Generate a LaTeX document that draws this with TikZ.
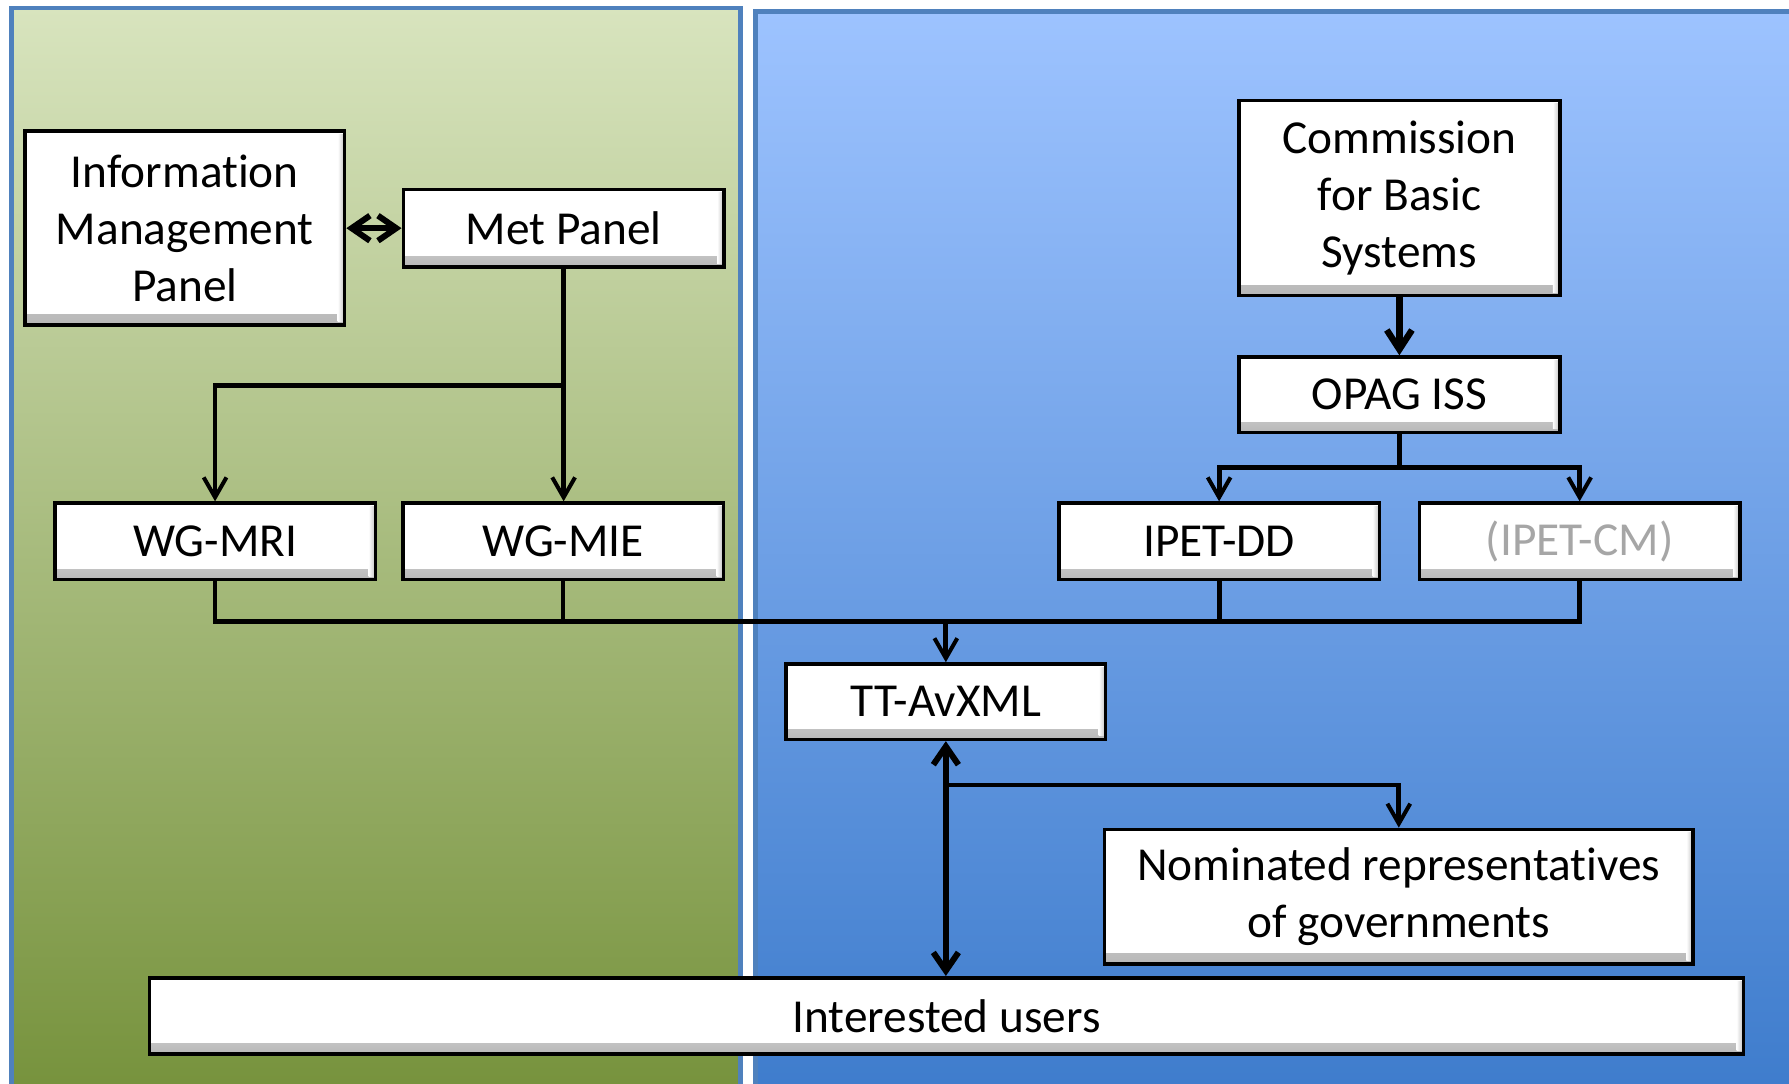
\documentclass[tikz,border=0pt]{standalone}
\usepackage{fontspec}
\setmainfont{Carlito}[Ligatures=NoCommon]
\usepackage{tikz}
\usetikzlibrary{arrows.meta}
\pgfdeclarelayer{bg}
\pgfsetlayers{bg,main}
\definecolor{greentop}{RGB}{216,228,190}
\definecolor{greenbot}{RGB}{118,146,60}
\definecolor{bluetop}{RGB}{157,195,255}
\definecolor{bluebot}{RGB}{62,124,204}
\definecolor{panelrim}{RGB}{79,129,189}
\definecolor{ghosttext}{RGB}{166,166,166}
\tikzset{
    box/.style={draw=black, line width=0.9pt, fill=white, align=center, inner sep=0pt,
        font=\fontsize{11.8}{14.2}\selectfont,
        path picture={
            \shade[top color=white, bottom color=black!28]
                ([yshift=0.09cm]path picture bounding box.south west) rectangle (path picture bounding box.south east);
            \shade[left color=white, right color=black!25]
                ([xshift=-0.06cm,yshift=-0.03cm]path picture bounding box.north east) rectangle ([yshift=0.03cm]path picture bounding box.south east);
        }},
    link/.style={draw=black, line width=1.2pt},
    arr/.style={link, -{Straight Barb[length=1.75mm,width=2mm,line width=1pt]}},
    bigarr/.style={draw=black, line width=1.6pt, -{Straight Barb[length=1.7mm,width=2.2mm,line width=1.6pt]}},
    dblarr/.style={draw=black, line width=1.5pt, {Straight Barb[length=1.6mm,width=2.2mm,line width=1.5pt]}-{Straight Barb[length=1.6mm,width=2.2mm,line width=1.5pt]}},
}
\begin{document}
\begin{tikzpicture}
                \useasboundingbox (0,0) rectangle (15.68,-9.50);
                \begin{pgfonlayer}{bg}
                    \fill[white] (0,0) rectangle (15.68,-9.50);
                    \shade[top color=greentop, bottom color=greenbot] (0.10,-0.07) rectangle (6.49,-9.60);
                    \draw[panelrim, line width=1.2pt] (0.10,-9.60) -- (0.10,-0.07) -- (6.49,-0.07) -- (6.49,-9.60);
                    \shade[top color=bluetop, bottom color=bluebot] (6.62,-0.10) rectangle (15.80,-9.60);
                    \draw[panelrim, line width=1.2pt] (6.62,-9.60) -- (6.62,-0.10) -- (15.80,-0.10);
                \end{pgfonlayer}

                % WMO side
                \node[box, minimum width=2.80cm, minimum height=1.70cm] (info) at (1.62,-2.00) {Information\\Management\\Panel};
                \node[box, minimum width=2.81cm, minimum height=0.68cm] (met) at (4.94,-2.00) {Met Panel};
                \node[box, minimum width=2.81cm, minimum height=0.67cm] (mri) at (1.885,-4.745) {WG-MRI};
                \node[box, minimum width=2.81cm, minimum height=0.67cm] (mie) at (4.935,-4.745) {WG-MIE};

                % ICAO side
                \node[box, minimum width=2.81cm, minimum height=1.71cm] (cbs) at (12.265,-1.735) {Commission\\for Basic\\Systems};
                \node[box, minimum width=2.81cm, minimum height=0.66cm] (opag) at (12.265,-3.46) {OPAG ISS};
                \node[box, minimum width=2.81cm, minimum height=0.67cm] (dd) at (10.685,-4.745) {IPET-DD};
                \node[box, minimum width=2.81cm, minimum height=0.67cm, text=ghosttext] (cm) at (13.845,-4.745) {(IPET-CM)};

                \node[box, minimum width=2.80cm, minimum height=0.66cm] (tt) at (8.29,-6.15) {TT-AvXML};
                \node[box, minimum width=5.16cm, minimum height=1.18cm] (nom) at (12.26,-7.86) {Nominated representatives\\of governments};
                \node[box, minimum width=13.97cm, minimum height=0.67cm] (users) at (8.295,-8.905) {Interested users};

                \coordinate (metfork) at (4.94,-3.38);
                \coordinate (opagfork) at (12.265,-4.10);
                \coordinate (bus) at (8.29,-5.45);
                \coordinate (ttfork) at (8.29,-6.88);

                \draw[dblarr] (info) -- (met);
                \draw[link] (met) -- (metfork);
                \draw[arr] (metfork) -| (mri);
                \draw[arr] (metfork) -- (metfork |- mie.north);

                \draw[bigarr] (cbs) -- (opag);
                \draw[link] (opag) -- (opagfork);
                \draw[arr] (opagfork) -| (dd);
                \draw[arr] (opagfork) -| (cm);

                \draw[link] (mri) |- (bus);
                \draw[link] (mie) |- (bus);
                \draw[link] (dd) |- (bus);
                \draw[link] (cm) |- (bus);
                \draw[arr] (bus) -- (tt);

                \draw[dblarr] (tt.south) -- (tt.south |- users.north);
                \draw[arr] (ttfork) -| (nom);
            \end{tikzpicture}
\end{document}
